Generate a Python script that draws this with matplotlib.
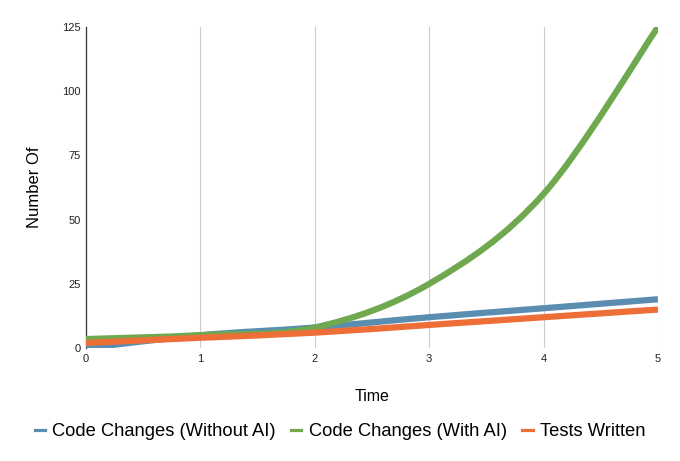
import matplotlib
matplotlib.use("Agg")
import matplotlib.pyplot as plt
from matplotlib.path import Path
from matplotlib.patches import PathPatch
from matplotlib.lines import Line2D
import numpy as np

plt.rcParams['font.family'] = ['Liberation Sans', 'DejaVu Sans']

# data
time = [0, 1, 2, 3, 4, 5]
without_ai = [0, 5, 8, 12, 15.5, 19]
with_ai = [3.5, 5, 8, 25, 60, 125]
tests = [2, 4, 6, 9, 12, 15]

names = ['Code Changes (Without AI)', 'Code Changes (With AI)', 'Tests Written']
colors = ['#5b8db0', '#6fa84f', '#ee6e37']


def smooth_path(xs, ys):
    # catmull-rom style cubic bezier through the points
    xs = np.asarray(xs, float)
    ys = np.asarray(ys, float)
    n = len(xs)
    verts = [(xs[0], ys[0])]
    codes = [Path.MOVETO]
    for i in range(n - 1):
        i0 = max(i - 1, 0)
        i3 = min(i + 2, n - 1)
        t = 1 / 6.0
        c1 = (xs[i] + (xs[i + 1] - xs[i0]) * t, ys[i] + (ys[i + 1] - ys[i0]) * t)
        c2 = (xs[i + 1] - (xs[i3] - xs[i]) * t, ys[i + 1] - (ys[i3] - ys[i]) * t)
        verts += [c1, c2, (xs[i + 1], ys[i + 1])]
        codes += [Path.CURVE4] * 3
    return Path(verts, codes)


fig = plt.figure(figsize=(6.8, 4.61), dpi=100)
ax = fig.add_axes([0.1265, 0.245, 0.841, 0.6964])

for ys, c in zip([without_ai, with_ai, tests], colors):
    ax.add_patch(PathPatch(smooth_path(time, ys), fill=False, edgecolor=c,
                           lw=4.5, capstyle='butt', joinstyle='round', zorder=3))

ax.set_xlim(0, 5)
ax.set_ylim(0, 125)
ax.set_xticks(time)
ax.set_yticks([0, 25, 50, 75, 100, 125])
ax.tick_params(length=0, labelsize=8, colors='#222222', pad=4)
ax.grid(axis='x', color='#cccccc', lw=0.8)
ax.set_axisbelow(True)
for s in ['top', 'right', 'bottom']:
    ax.spines[s].set_visible(False)
ax.spines['left'].set_color('#333333')
ax.spines['left'].set_linewidth(0.9)

ax.set_xlabel('Time', fontsize=11.5, labelpad=18)
ax.set_ylabel('Number Of', fontsize=12, labelpad=14)

handles = [Line2D([0], [0], color=c, lw=2.3) for c in colors]
fig.legend(handles, names, loc='center', bbox_to_anchor=(0.5, 0.063), ncol=3,
           frameon=False, fontsize=13.2, handlelength=0.55, handletextpad=0.4,
           columnspacing=0.85)

fig.savefig('out.png', dpi=100)
